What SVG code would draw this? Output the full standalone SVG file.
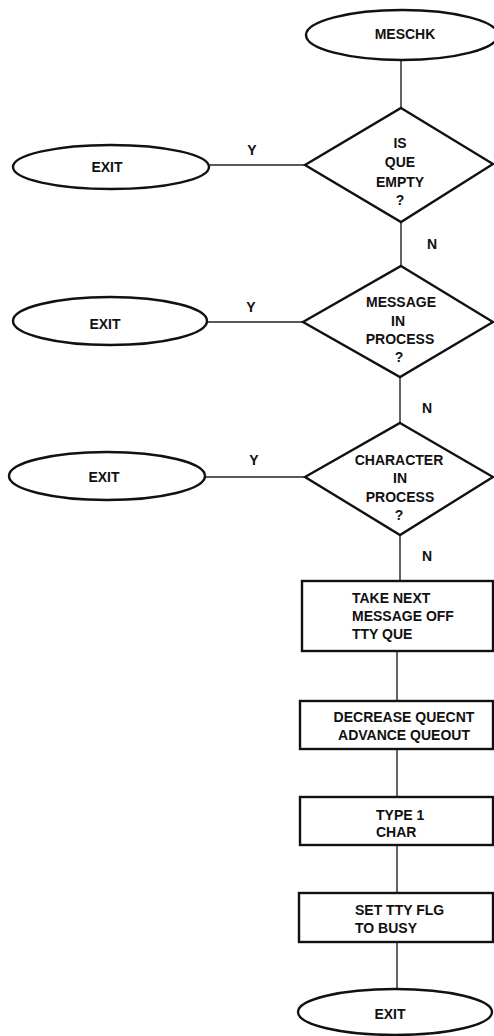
<svg xmlns="http://www.w3.org/2000/svg" width="494" height="1036" viewBox="0 0 494 1036">
<style>
.s{fill:#fff;stroke:#111;stroke-width:2.4}
.c{fill:none;stroke:#222;stroke-width:1.4}
text{font-family:"Liberation Sans",Arial,sans-serif;font-weight:bold;font-size:14px;fill:#111}
.m{text-anchor:middle}
</style>
<rect width="494" height="1036" fill="#fff"/>
<g id="connectors">
<line class="c" x1="401" y1="60" x2="401" y2="108"/>
<line class="c" x1="401" y1="222" x2="401" y2="266"/>
<line class="c" x1="400" y1="377" x2="400" y2="423"/>
<line class="c" x1="400" y1="535" x2="400" y2="581"/>
<line class="c" x1="397" y1="651" x2="397" y2="701"/>
<line class="c" x1="397" y1="749" x2="397" y2="797"/>
<line class="c" x1="397" y1="845" x2="397" y2="893"/>
<line class="c" x1="397" y1="942" x2="397" y2="989"/>
<line class="c" x1="210" y1="165" x2="305" y2="165"/>
<line class="c" x1="207" y1="322" x2="303" y2="322"/>
<line class="c" x1="205" y1="477" x2="305" y2="477"/>
<text class="m" x="252" y="155">Y</text>
<text class="m" x="251" y="312">Y</text>
<text class="m" x="254" y="465">Y</text>
<text class="m" x="432" y="249">N</text>
<text class="m" x="427" y="413">N</text>
<text class="m" x="427" y="561">N</text>
</g>
<g id="meschk">
<ellipse class="s" cx="402" cy="35" rx="96" ry="25"/>
<text class="m" x="405" y="39">MESCHK</text>
</g>
<g id="d1">
<polygon class="s" points="401,108 493,164 401,222 305,165"/>
<text class="m" x="400" y="148">IS</text>
<text class="m" x="400" y="167">QUE</text>
<text class="m" x="400" y="187">EMPTY</text>
<text class="m" x="400" y="205">?</text>
</g>
<g id="exit1">
<ellipse class="s" cx="111" cy="167" rx="98" ry="22"/>
<text class="m" x="107" y="172">EXIT</text>
</g>
<g id="d2">
<polygon class="s" points="401,266 493,322 400,377 303,322"/>
<text class="m" x="401" y="307">MESSAGE</text>
<text class="m" x="398" y="326">IN</text>
<text class="m" x="400" y="344">PROCESS</text>
<text class="m" x="399" y="362">?</text>
</g>
<g id="exit2">
<ellipse class="s" cx="110" cy="321" rx="97" ry="24"/>
<text class="m" x="105" y="329">EXIT</text>
</g>
<g id="d3">
<polygon class="s" points="400,423 493,477 400,535 305,477"/>
<text class="m" x="399" y="465">CHARACTER</text>
<text class="m" x="400" y="483">IN</text>
<text class="m" x="400" y="502">PROCESS</text>
<text class="m" x="399" y="520">?</text>
</g>
<g id="exit3">
<ellipse class="s" cx="107" cy="476" rx="98" ry="24"/>
<text class="m" x="104" y="482">EXIT</text>
</g>
<g id="box1">
<rect class="s" x="302" y="581" width="191" height="70"/>
<text x="352" y="603">TAKE NEXT</text>
<text x="352" y="621">MESSAGE OFF</text>
<text x="352" y="639">TTY QUE</text>
</g>
<g id="box2">
<rect class="s" x="300" y="701" width="193" height="48"/>
<text class="m" x="404" y="722">DECREASE QUECNT</text>
<text class="m" x="404" y="740">ADVANCE QUEOUT</text>
</g>
<g id="box3">
<rect class="s" x="300" y="797" width="193" height="48"/>
<text x="376" y="820">TYPE 1</text>
<text x="376" y="837">CHAR</text>
</g>
<g id="box4">
<rect class="s" x="299" y="893" width="194" height="49"/>
<text x="355" y="915">SET TTY FLG</text>
<text x="355" y="933">TO BUSY</text>
</g>
<g id="exit4">
<ellipse class="s" cx="395" cy="1012" rx="97" ry="23"/>
<text class="m" x="390" y="1019">EXIT</text>
</g>
</svg>
